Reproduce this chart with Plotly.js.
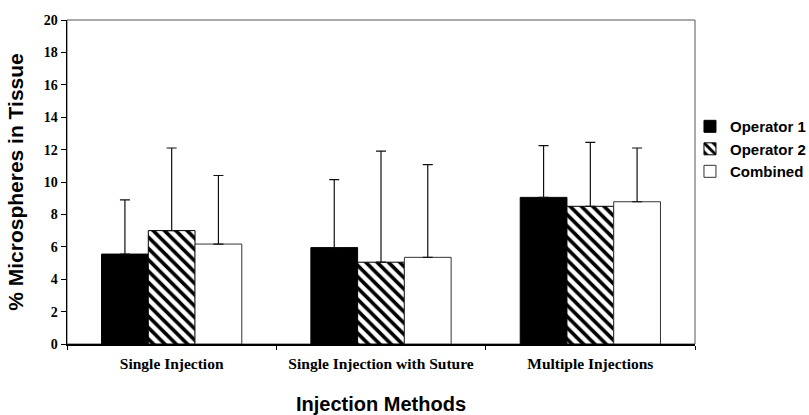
<!DOCTYPE html>
<html><head><meta charset="utf-8">
<script src="https://cdn.plot.ly/plotly-3.0.1.min.js"></script>
<style>body{margin:0;background:#fff}#chart{width:809px;height:415px}</style>
</head><body><div id="chart"></div>
<script>
const categories = ["Single Injection", "Single Injection with Suture", "Multiple Injections"];
const operator1 = [5.55, 5.95, 9.05];
const operator1Err = [3.35, 4.2, 3.2];
const operator2 = [7.0, 5.05, 8.5];
const operator2Err = [5.1, 6.85, 3.95];
const combined = [6.17, 5.35, 8.78];
const combinedErr = [4.23, 5.72, 3.32];
const yTicks = [0, 2, 4, 6, 8, 10, 12, 14, 16, 18, 20];

function errBar(arr) {
  return {type: 'data', array: arr, arrayminus: arr.map(() => 0), symmetric: false,
          visible: true, color: '#111', thickness: 1.2, width: 5};
}

const traces = [
  {type: 'bar', name: 'Operator 1', x: categories, y: operator1, error_y: errBar(operator1Err),
   marker: {color: '#000', line: {color: '#000', width: 1}}},
  {type: 'bar', name: 'Operator 2', x: categories, y: operator2, error_y: errBar(operator2Err),
   marker: {color: '#fff', line: {color: '#000', width: 1},
            pattern: {shape: '\\', fgcolor: '#000', bgcolor: '#fff', size: 8, solidity: 0.45}}},
  {type: 'bar', name: 'Combined', x: categories, y: combined, error_y: errBar(combinedErr),
   marker: {color: '#fff', line: {color: '#333', width: 1}}}
];

const layout = {
  width: 809, height: 415,
  margin: {l: 67, r: 114, t: 20, b: 71, autoexpand: false},
  paper_bgcolor: '#fff', plot_bgcolor: '#fff',
  barmode: 'group', bargap: 0.33, bargroupgap: 0,
  showlegend: true,
  legend: {x: 0.992, y: 0.722, xanchor: 'left', yanchor: 'top', bgcolor: 'rgba(0,0,0,0)',
           font: {family: 'Liberation Sans, Arial, sans-serif', size: 15, color: '#000', weight: 'bold'},
           tracegroupgap: 0, itemwidth: 30},
  xaxis: {
    showline: true, linecolor: '#000', linewidth: 2,
    ticks: 'outside', tickson: 'boundaries', ticklen: 4, tickcolor: '#000', tickwidth: 1,
    ticklabelstandoff: 4,
    tickfont: {family: 'Liberation Serif, Times New Roman, serif', size: 15.5, color: '#000', weight: 'bold'},
    title: {text: 'Injection Methods', standoff: 30,
            font: {family: 'Liberation Sans, Arial, sans-serif', size: 20, color: '#000', weight: 'bold'}},
    showgrid: false, zeroline: false
  },
  yaxis: {
    range: [0, 20], tickvals: yTicks, ticktext: yTicks.map(String),
    showline: true, linecolor: '#000', linewidth: 1.5,
    ticks: 'outside', ticklen: 5, tickcolor: '#000', tickwidth: 1,
    tickfont: {family: 'Liberation Serif, Times New Roman, serif', size: 14, color: '#000', weight: 'bold'},
    title: {text: '% Microspheres in Tissue', standoff: 14,
            font: {family: 'Liberation Sans, Arial, sans-serif', size: 21, color: '#000', weight: 'bold'}},
    showgrid: false, zeroline: false
  },
  shapes: [{type: 'rect', xref: 'paper', yref: 'paper', x0: 0, x1: 1, y0: 0, y1: 1,
            line: {color: '#555', width: 1}, layer: 'below'}]
};

Plotly.newPlot('chart', traces, layout, {displayModeBar: false, staticPlot: true});
</script></body></html>
